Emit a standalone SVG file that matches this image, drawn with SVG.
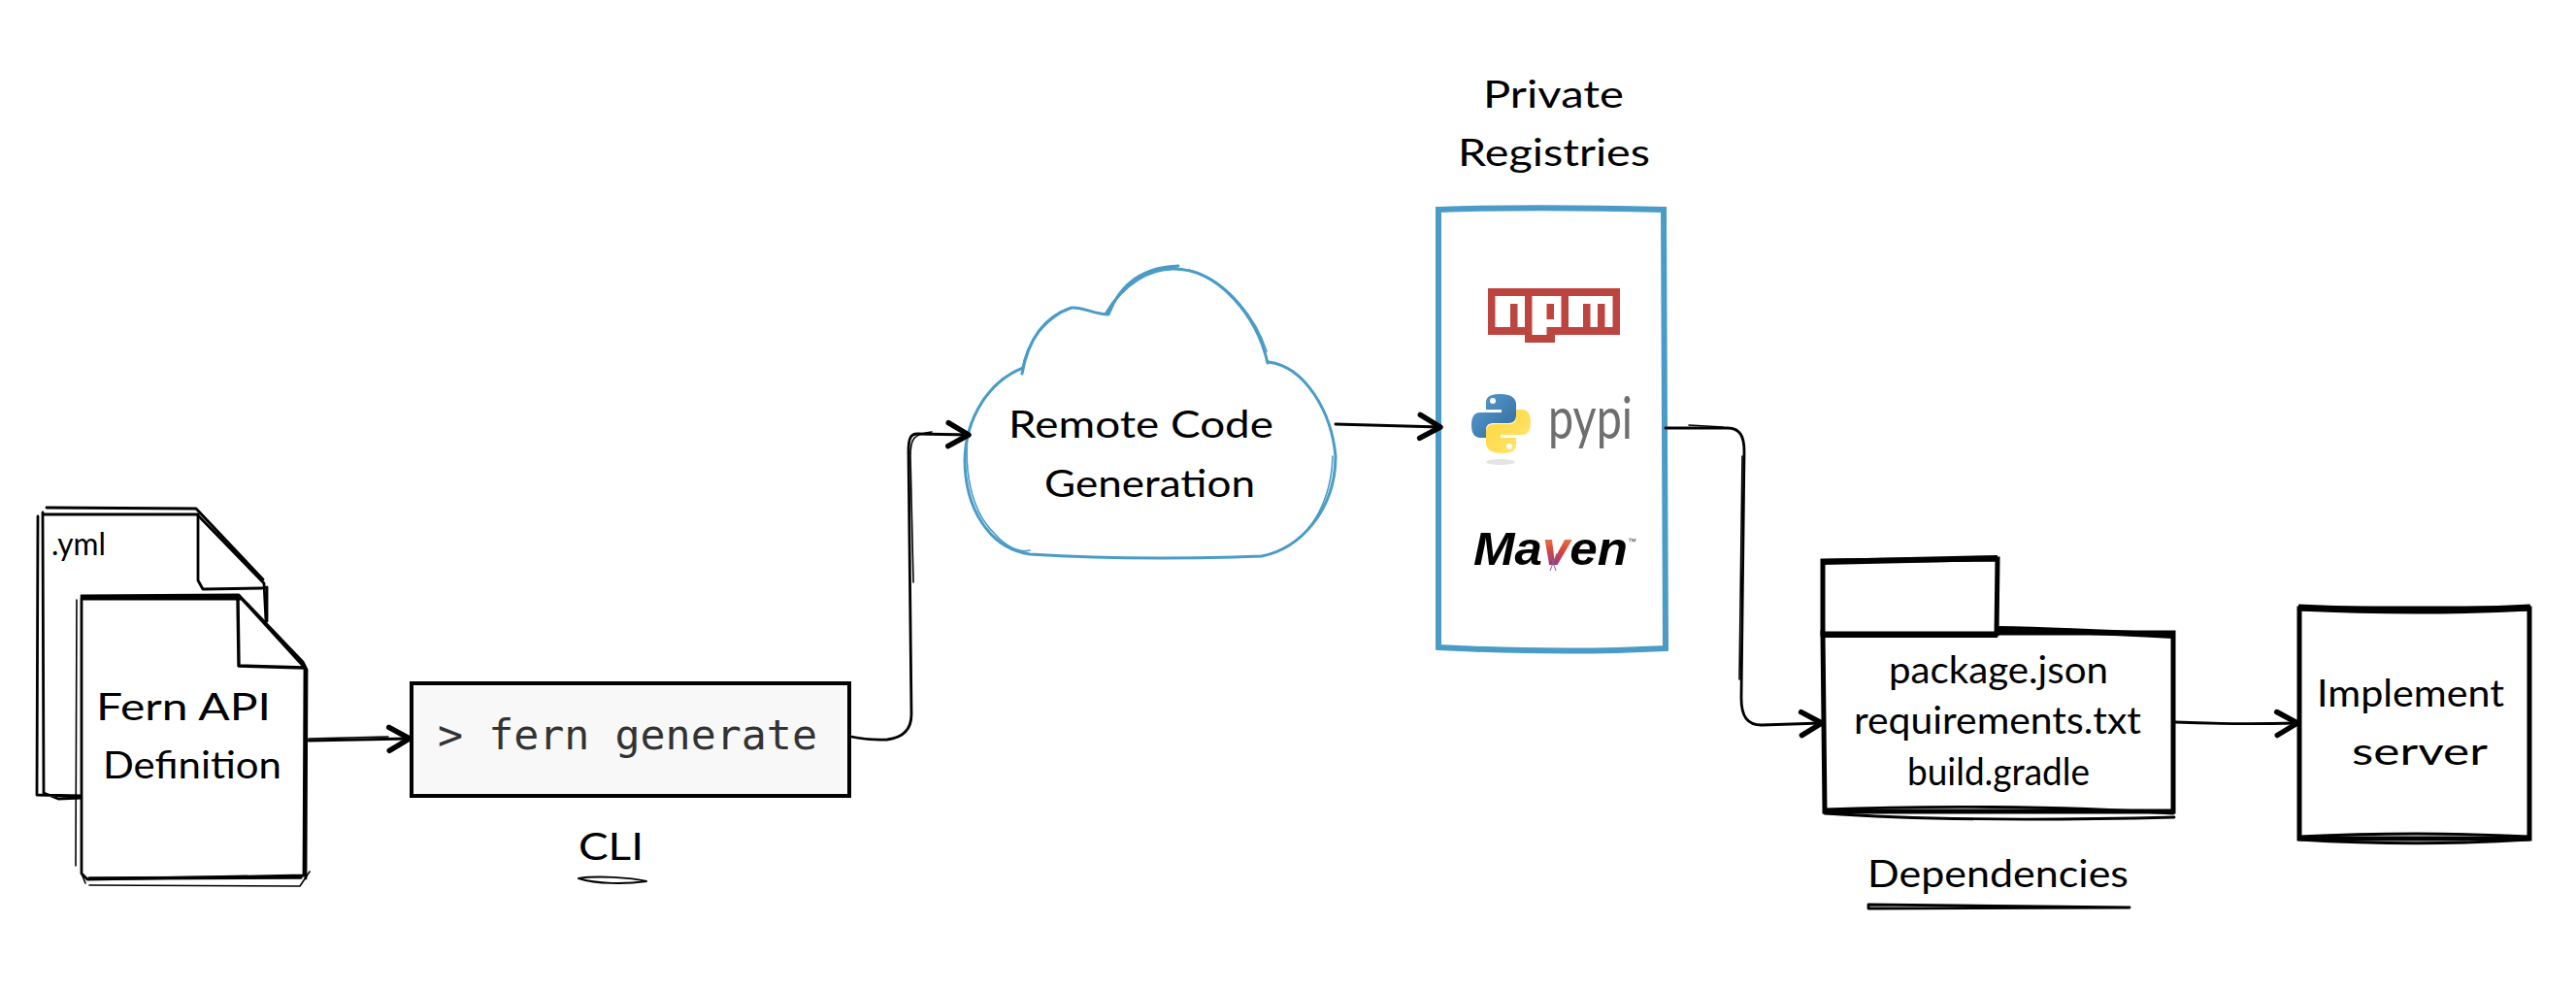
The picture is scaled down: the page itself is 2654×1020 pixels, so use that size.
<svg xmlns="http://www.w3.org/2000/svg" width="2654" height="1020" viewBox="0 0 2654 1020">
<style>
.hand{font-family:"Lato","Open Sans","Liberation Sans",sans-serif;font-weight:400;font-size:38px;fill:#000}
.ink{fill:none;stroke:#000;stroke-width:2.8;stroke-linecap:round;stroke-linejoin:round}
.thin{fill:none;stroke:#000;stroke-width:1.6;stroke-linecap:round;stroke-linejoin:round}
.blue{fill:none;stroke:#4a9cc7;stroke-width:3;stroke-linecap:round;stroke-linejoin:round}
.conn{fill:none;stroke:#000;stroke-width:2.8;stroke-linecap:round;stroke-linejoin:round}
.blk{fill:#fff}
.npmr{fill:#bc4540}
.npmw{fill:#fff}
</style>
<defs>
<marker id="arrow" markerUnits="userSpaceOnUse" markerWidth="40" markerHeight="40" refX="30" refY="20" orient="auto" overflow="visible">
<path d="M9 8 L30 20 L9 32" fill="none" stroke="#000" stroke-width="5.5" stroke-linecap="round" stroke-linejoin="round"/>
</marker>
<linearGradient id="pyb" x1="0" y1="0" x2="1" y2="1"><stop offset="0" stop-color="#5a9fd4"/><stop offset="1" stop-color="#306998"/></linearGradient>
<linearGradient id="pyy" x1="0" y1="0" x2="1" y2="1"><stop offset="0" stop-color="#ffe873"/><stop offset="1" stop-color="#ffd43b"/></linearGradient>
<linearGradient id="feather" x1="0" y1="0" x2="0" y2="1"><stop offset="0.1" stop-color="#f6a33a"/><stop offset="0.55" stop-color="#d6433f"/><stop offset="0.95" stop-color="#7c3a93"/></linearGradient>
</defs>

<g id="yml-file">
<path class="blk" d="M40 527 L202 527 L272 601 L273 830 L40 822 Z"/>
<path class="ink" d="M48 523 L202 524 L271 597 M44 530 L203 530 L272 601 L274 640 M39 532 L38 819 L84 820 M44 528 L45 817 L60 823 L84 822"/>
<path class="ink" d="M204 530 L204 598 L209 607 L270 606 L275 605 L275 640"/>
<text class="hand" x="53" y="572" textLength="56" lengthAdjust="spacingAndGlyphs" style="font-size:32px">.yml</text>
</g>

<g id="fern-definition">
<path class="blk" d="M84 614 L245 614 L314 685 L315 905 L84 905 Z"/>
<path class="ink" d="M84 614 L246 613 L312 682 L316 690 L315 905 M86 617 L249 617 L314 688 L313 902 L90 906 L84 900 L84 616"/>
<path class="thin" d="M79 618 L78 892 M92 912 L309 913 L319 898 M84 900 L88 910"/>
<path class="ink" style="stroke-width:3.4" d="M86 615 L245 615 M245 616 L246 686 L314 688 M92 905 L310 904"/>
<text class="hand" x="99" y="742" textLength="180" lengthAdjust="spacingAndGlyphs">Fern API</text>
<text class="hand" x="106" y="802" textLength="184" lengthAdjust="spacingAndGlyphs">Definition</text>
</g>

<g id="cli">
<rect x="424" y="704" width="451" height="116" fill="#f8f8f8" stroke="#000" stroke-width="4"/>
<text x="451" y="772" font-family="'DejaVu Sans Mono','Liberation Mono',monospace" font-size="43" fill="#333" textLength="391" lengthAdjust="spacingAndGlyphs">&gt; fern generate</text>
<text class="hand" x="596" y="886" textLength="67" lengthAdjust="spacingAndGlyphs">CLI</text>
<path class="ink" style="stroke-width:2" d="M596 905 C615 902 650 904 666 908 C645 911 615 911 596 905 Z"/>
</g>

<g id="remote-code-generation">
<path class="blk" d="M994 473 C994 430 1020 392 1054 381 C1060 345 1080 325 1102 317 C1115 316 1128 322 1140 323 C1155 290 1180 275 1209 275 C1255 275 1295 325 1306 374 C1345 380 1372 425 1375 470 C1375 525 1340 565 1300 573 C1220 576 1140 576 1061 570 C1020 565 994 525 994 473 Z"/>
<path class="blue" d="M994 476 C994 430 1020 392 1054 379 M1053 385 C1060 345 1080 325 1104 317 C1115 316 1128 324 1142 324 C1155 290 1180 275 1214 274 M1140 322 C1158 292 1184 277 1209 277 C1255 277 1295 325 1306 374 L1307 373 C1345 378 1372 425 1376 470 C1376 525 1340 565 1300 573 C1220 576 1140 576 1061 571 C1020 565 994 525 994 473"/>
<path class="blue" style="stroke-width:1.6" d="M997 447 C994 480 998 525 1025 550 C1035 562 1050 570 1061 567 M1373 470 C1372 510 1355 550 1320 566 M1100 318 C1070 335 1058 355 1053 380 M1225 278 C1265 288 1295 330 1305 362"/>
<text class="hand" x="1039" y="451" textLength="273" lengthAdjust="spacingAndGlyphs">Remote Code</text>
<text class="hand" x="1076" y="512" textLength="217" lengthAdjust="spacingAndGlyphs">Generation</text>
</g>

<g id="private-registries">
<text class="hand" x="1528" y="111" textLength="145" lengthAdjust="spacingAndGlyphs">Private</text>
<text class="hand" x="1502" y="171" textLength="198" lengthAdjust="spacingAndGlyphs">Registries</text>
<path d="M1482 216 C1560 213 1640 214 1714 216 L1716 668 C1640 672 1560 671 1482 667 Z" fill="#fff" stroke="#4a9cc7" stroke-width="6" stroke-linejoin="miter"/>
<g id="npm-logo">
<rect class="npmr" x="1533" y="297" width="136" height="48"/>
<rect class="npmr" x="1571" y="345" width="31" height="8"/>
<rect class="npmw" x="1540.5" y="305" width="30.5" height="32"/>
<rect class="npmr" x="1556" y="313" width="7.5" height="24"/>
<rect class="npmw" x="1578.5" y="305" width="30" height="32"/>
<rect class="npmw" x="1578.5" y="337" width="15" height="8"/>
<rect class="npmr" x="1593.5" y="313" width="7.5" height="16"/>
<rect class="npmw" x="1616" y="305" width="45.5" height="32"/>
<rect class="npmr" x="1631" y="313" width="7.5" height="24"/>
<rect class="npmr" x="1646" y="313" width="7.5" height="24"/>
</g>
<g id="pypi-logo">
<g transform="translate(1516 406)">
<path fill="url(#pyb)" d="M30 0 C15 0 15 6 15 10 L15 16 L31 16 L31 19 L9 19 C2 19 0 25 0 32 C0 40 3 45 9 45 L15 45 L15 37 C15 31 19 30 23 30 L38 30 C43 30 46 27 46 22 L46 10 C46 4 40 0 30 0 Z"/>
<circle cx="22" cy="7" r="3" fill="#fff"/>
<g transform="rotate(180 30.5 30.5)">
<path fill="url(#pyy)" d="M30 0 C15 0 15 6 15 10 L15 16 L31 16 L31 19 L9 19 C2 19 0 25 0 32 C0 40 3 45 9 45 L15 45 L15 37 C15 31 19 30 23 30 L38 30 C43 30 46 27 46 22 L46 10 C46 4 40 0 30 0 Z"/>
<circle cx="22" cy="7" r="3" fill="#fff"/>
</g>
</g>
<ellipse cx="1546" cy="476" rx="15" ry="3" fill="#e4e4e4"/>
<text x="1595" y="452" font-family="Lato,'Open Sans',sans-serif" font-weight="400" font-size="60" fill="#6e6e6e" textLength="87" lengthAdjust="spacingAndGlyphs">pypi</text>
</g>
<g id="maven-logo">
<text x="1518" y="582" font-family="'Liberation Sans',Arial,sans-serif" font-weight="700" font-style="italic" font-size="49" fill="#000" textLength="159" lengthAdjust="spacingAndGlyphs">Ma<tspan fill="url(#feather)">v</tspan>en</text>
<text x="1677" y="561" font-family="'Liberation Sans',Arial,sans-serif" font-size="9" fill="#444">™</text>
<path d="M1596 568 L1603 588 M1604 570 L1597 588" stroke="#8a5aa0" stroke-width="1" fill="none"/>
</g>
</g>

<g id="dependencies">
<path d="M1878 652 L2239 652 L2239 836 L1880 836 Z" fill="#fff" stroke="#000" stroke-width="5"/>
<path d="M2058 648 C2120 649 2180 652 2239 655" fill="none" stroke="#000" stroke-width="6"/>
<path d="M1878 578 L2058 576 L2057 653 L1878 653 Z" fill="#fff" stroke="#000" stroke-width="5"/>
<path d="M1878 579 L2058 575 M1878 654 L2058 654" fill="none" stroke="#000" stroke-width="6"/>
<path class="ink" d="M1880 834 C1980 830 2120 830 2239 838 M1880 838 C1980 845 2120 845 2240 842"/>
<text class="hand" x="1946" y="704" textLength="226" lengthAdjust="spacingAndGlyphs">package.json</text>
<text class="hand" x="1910" y="756" textLength="296" lengthAdjust="spacingAndGlyphs">requirements.txt</text>
<text class="hand" x="1965" y="809" textLength="188" lengthAdjust="spacingAndGlyphs">build.gradle</text>
<text class="hand" x="1924" y="914" textLength="269" lengthAdjust="spacingAndGlyphs">Dependencies</text>
<path class="ink" d="M1925 932 L2194 935 L1925 936 Z"/>
</g>

<g id="implement-server">
<path d="M2369 627 L2606 627 L2606 864 L2369 864 Z" fill="#fff" stroke="#000" stroke-width="5"/>
<path d="M2368 626 C2450 630 2530 630 2607 626" fill="none" stroke="#000" stroke-width="7"/>
<path class="ink" d="M2369 862 C2450 858 2530 858 2606 862 M2369 865 C2450 870 2530 870 2606 865"/>
<text class="hand" x="2387" y="728" textLength="193" lengthAdjust="spacingAndGlyphs">Implement</text>
<text class="hand" x="2423" y="788" textLength="140" lengthAdjust="spacingAndGlyphs">server</text>
</g>

<g id="connectors">
<path class="conn" marker-end="url(#arrow)" d="M318 763 L422 761"/>
<path class="thin" d="M318 761 L400 759"/>
<path class="conn" marker-end="url(#arrow)" d="M877 759 C895 763 905 762 914 762 C930 760 939 752 939 736 L936 465 C936 452 938 447 945 447 L998 448"/>
<path class="thin" d="M941 600 L938 470 C938 452 941 447 960 445"/>
<path class="conn" marker-end="url(#arrow)" d="M1376 437 L1484 440"/>
<path class="conn" marker-end="url(#arrow)" d="M1716 441 L1780 441 C1793 441 1797 450 1797 465 L1794 719 C1794 738 1800 747 1815 747 L1877 745"/>
<path class="thin" d="M1740 438 L1775 440 M1795 470 L1792 700"/>
<path class="conn" marker-end="url(#arrow)" d="M2241 744 C2285 746 2325 746 2367 745"/>
</g>
</svg>
